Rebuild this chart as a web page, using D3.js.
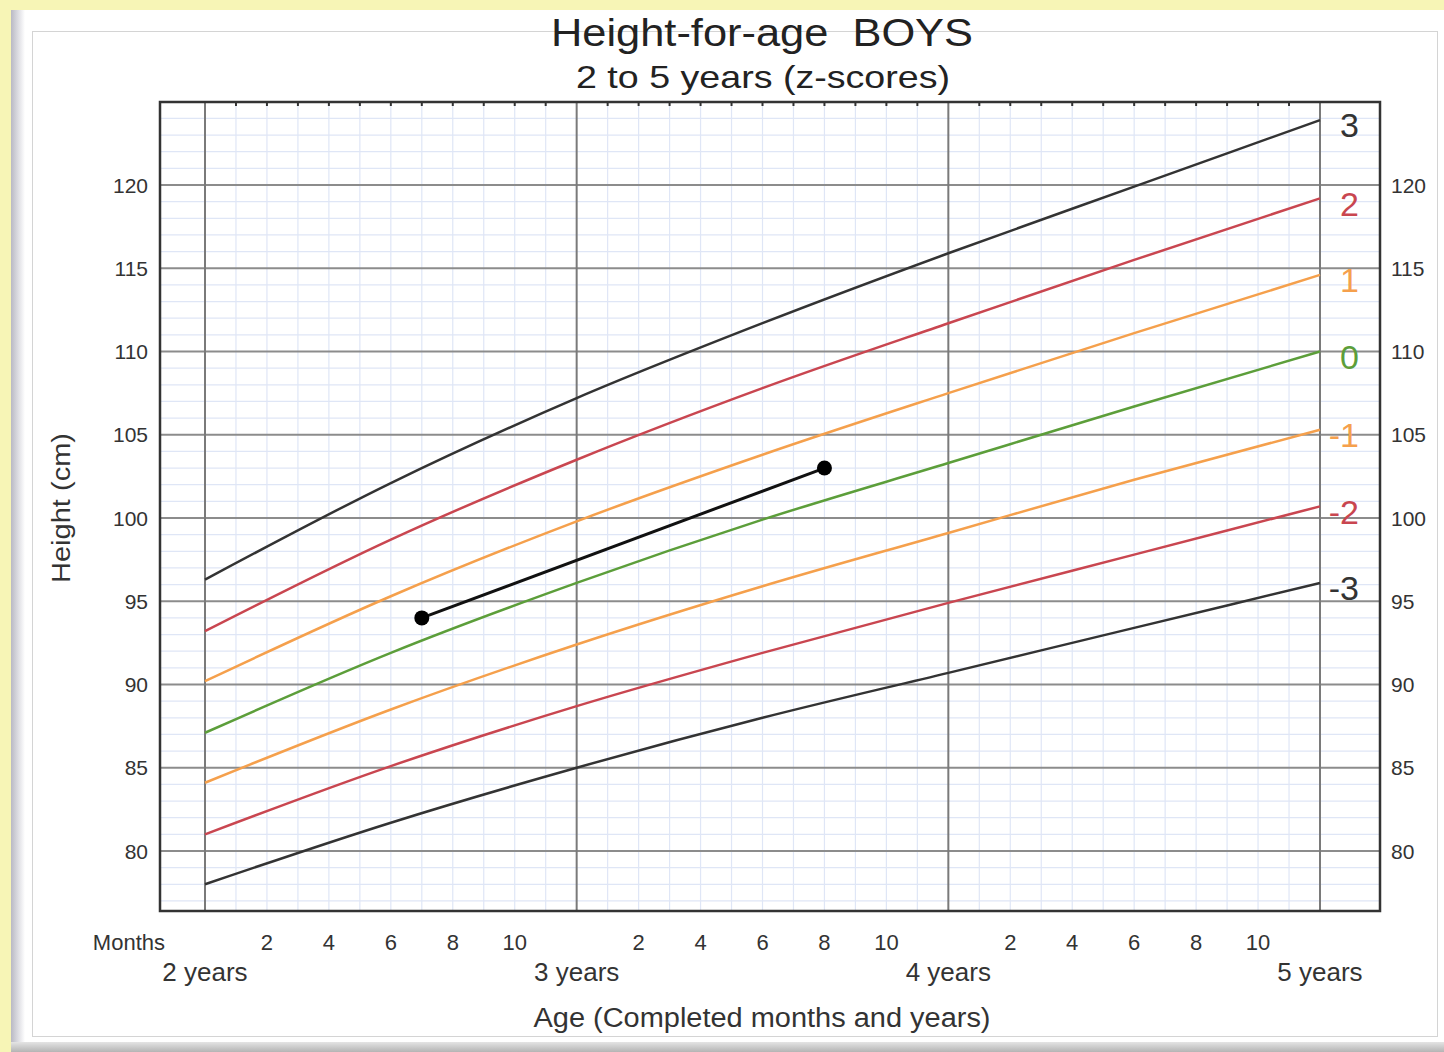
<!DOCTYPE html>
<html>
<head>
<meta charset="utf-8">
<script src="https://cdn.jsdelivr.net/npm/d3@7"></script>
<style>
  body { margin: 0; background: #f7f5b6; }
  svg { display: block; font-family: "Liberation Sans", Arial, sans-serif; }
</style>
</head>
<body>
<div id="chart"></div>
<script>
var svgWidth = 1444;
var svgHeight = 1052;

// age in months, every 6 months from 24 to 60
var ages = [24, 30, 36, 42, 48, 54, 60];
var months = d3.range(24, 61);

// WHO height-for-age boys, z-score curves (cm)
var sdNeg3 = [78.0, 81.7, 85.0, 88.0, 90.7, 93.4, 96.1];
var sdNeg2 = [81.0, 85.1, 88.7, 91.9, 94.9, 97.8, 100.7];
var sdNeg1 = [84.1, 88.5, 92.4, 95.9, 99.1, 102.3, 105.3];
var sd0 = [87.1, 91.9, 96.1, 99.9, 103.3, 106.7, 110.0];
var sd1 = [90.2, 95.3, 99.8, 103.8, 107.5, 111.1, 114.6];
var sd2 = [93.2, 98.7, 103.5, 107.8, 111.7, 115.5, 119.2];
var sd3 = [96.3, 102.1, 107.2, 111.7, 115.9, 119.9, 123.9];

var curveNames = ["-3", "-2", "-1", "0", "1", "2", "3"];
var curveColors = ["#333333", "#c94650", "#f5a04c", "#5c9e3a", "#f5a04c", "#c94650", "#333333"];
var curveValues = [sdNeg3, sdNeg2, sdNeg1, sd0, sd1, sd2, sd3];

// child measurements
var childAge = [31, 44];
var childHeight = [94.0, 103.0];

var yTicks = [80, 85, 90, 95, 100, 105, 110, 115, 120];
var monthTicks = [2, 4, 6, 8, 10];
var yearTicks = [24, 36, 48, 60];

var frame = { left: 160, right: 1380, top: 102, bottom: 911 };

var svg = d3.select("#chart")
  .append("svg")
  .attr("width", svgWidth)
  .attr("height", svgHeight);

// page decoration: yellow border, white sheet with shadow
var defs = svg.append("defs");
var shadowL = defs.append("linearGradient").attr("id", "shadowL");
shadowL.append("stop").attr("offset", "0%").attr("stop-color", "#b9b9c4");
shadowL.append("stop").attr("offset", "100%").attr("stop-color", "#ffffff");
var shadowB = defs.append("linearGradient").attr("id", "shadowB")
  .attr("x1", 0).attr("y1", 0).attr("x2", 0).attr("y2", 1);
shadowB.append("stop").attr("offset", "0%").attr("stop-color", "#e4e4e4");
shadowB.append("stop").attr("offset", "100%").attr("stop-color", "#b4b4b4");

svg.append("rect").attr("width", svgWidth).attr("height", svgHeight).attr("fill", "#f7f5b6");
svg.append("rect").attr("x", 11).attr("y", 10).attr("width", svgWidth - 11).attr("height", 1032)
  .attr("fill", "#ffffff");
svg.append("rect").attr("x", 11).attr("y", 10).attr("width", 14).attr("height", 1032)
  .attr("fill", "url(#shadowL)");
svg.append("rect").attr("x", 11).attr("y", 1042).attr("width", svgWidth - 11).attr("height", 10)
  .attr("fill", "url(#shadowB)");
svg.append("rect").attr("x", 32.5).attr("y", 31.5).attr("width", 1405).attr("height", 1005)
  .attr("fill", "none").attr("stroke", "#d4d4d4").attr("stroke-width", 1);

var x = d3.scaleLinear().domain([24, 60]).range([205, 1320]);
var y = d3.scaleLinear().domain([80, 120]).range([851, 185]);

var plot = svg.append("g");

// minor grid: every cm, every month
plot.selectAll(".minorY")
  .data(d3.range(77, 125).filter(d => d % 5 !== 0))
  .enter().append("line")
  .attr("x1", frame.left).attr("x2", frame.right)
  .attr("y1", d => y(d)).attr("y2", d => y(d))
  .attr("stroke", "#dfe6f6").attr("stroke-width", 1.2);

plot.selectAll(".minorX")
  .data(months.filter(d => d % 12 !== 0))
  .enter().append("line")
  .attr("x1", d => x(d)).attr("x2", d => x(d))
  .attr("y1", frame.top).attr("y2", frame.bottom)
  .attr("stroke", "#dfe6f6").attr("stroke-width", 1.2);

// major grid
plot.selectAll(".majorY")
  .data(yTicks)
  .enter().append("line")
  .attr("x1", frame.left).attr("x2", frame.right)
  .attr("y1", d => y(d)).attr("y2", d => y(d))
  .attr("stroke", "#8c8c8c").attr("stroke-width", 2);

plot.selectAll(".majorX")
  .data(yearTicks)
  .enter().append("line")
  .attr("x1", d => x(d)).attr("x2", d => x(d))
  .attr("y1", frame.top).attr("y2", frame.bottom)
  .attr("stroke", "#7a7a7a").attr("stroke-width", 2);

// small month ticks on top edge
plot.selectAll(".topTick")
  .data(months.filter(d => d % 12 !== 0))
  .enter().append("line")
  .attr("x1", d => x(d)).attr("x2", d => x(d))
  .attr("y1", frame.top).attr("y2", frame.top + 4)
  .attr("stroke", "#333").attr("stroke-width", 2);

// frame
plot.append("rect")
  .attr("x", frame.left).attr("y", frame.top)
  .attr("width", frame.right - frame.left).attr("height", frame.bottom - frame.top)
  .attr("fill", "none").attr("stroke", "#333").attr("stroke-width", 2.5);

// z-score curves
var line = d3.line()
  .x((d, i) => x(ages[i]))
  .y(d => y(d))
  .curve(d3.curveMonotoneX);

plot.selectAll(".zcurve")
  .data(curveValues)
  .enter().append("path")
  .attr("d", d => line(d))
  .attr("fill", "none")
  .attr("stroke", (d, i) => curveColors[i])
  .attr("stroke-width", 2.5);

plot.selectAll(".zlabel")
  .data(curveValues)
  .enter().append("text")
  .attr("x", 1359)
  .attr("y", d => y(d[d.length - 1]) + 5)
  .attr("dy", "0.36em")
  .attr("text-anchor", "end")
  .attr("font-size", 34)
  .attr("fill", (d, i) => curveColors[i])
  .text((d, i) => curveNames[i]);

// child's measurements
var childPts = childAge.map((a, i) => [a, childHeight[i]]);
plot.append("path")
  .attr("d", d3.line().x(d => x(d[0])).y(d => y(d[1]))(childPts))
  .attr("fill", "none").attr("stroke", "#111").attr("stroke-width", 3);
plot.selectAll(".child")
  .data(childPts)
  .enter().append("circle")
  .attr("cx", d => x(d[0])).attr("cy", d => y(d[1]))
  .attr("r", 7.5).attr("fill", "#000");

// y tick labels, both sides
var labels = svg.append("g").attr("fill", "#333").attr("font-size", 21);
labels.selectAll(".yl")
  .data(yTicks)
  .enter().append("text")
  .attr("x", 148).attr("y", d => y(d)).attr("dy", "0.36em")
  .attr("text-anchor", "end").text(d => d);
labels.selectAll(".yr")
  .data(yTicks)
  .enter().append("text")
  .attr("x", 1391).attr("y", d => y(d)).attr("dy", "0.36em")
  .attr("text-anchor", "start").text(d => d);

// month labels
var monthPos = [];
[24, 36, 48].forEach(function(start) {
  monthTicks.forEach(function(m) { monthPos.push([start + m, m]); });
});
labels.selectAll(".ml")
  .data(monthPos)
  .enter().append("text")
  .attr("x", d => x(d[0])).attr("y", 950)
  .attr("text-anchor", "middle").attr("font-size", 22)
  .text(d => d[1]);
labels.append("text")
  .attr("x", 165).attr("y", 950).attr("text-anchor", "end").attr("font-size", 22)
  .text("Months");

labels.selectAll(".yearl")
  .data(yearTicks)
  .enter().append("text")
  .attr("x", d => x(d)).attr("y", 981)
  .attr("text-anchor", "middle").attr("font-size", 26)
  .text(d => (d / 12) + " years");

// titles
svg.append("text")
  .attr("x", 762).attr("y", 46).attr("text-anchor", "middle")
  .attr("font-size", 38).attr("fill", "#222")
  .attr("textLength", 422).attr("lengthAdjust", "spacingAndGlyphs")
  .text("Height-for-age\u00a0\u00a0BOYS");
svg.append("text")
  .attr("x", 763).attr("y", 88).attr("text-anchor", "middle")
  .attr("font-size", 32).attr("fill", "#222")
  .attr("textLength", 374).attr("lengthAdjust", "spacingAndGlyphs")
  .text("2 to 5 years (z-scores)");
svg.append("text")
  .attr("x", 762).attr("y", 1027).attr("text-anchor", "middle")
  .attr("font-size", 27).attr("fill", "#333")
  .attr("textLength", 457).attr("lengthAdjust", "spacingAndGlyphs")
  .text("Age (Completed months and years)");
svg.append("text")
  .attr("transform", "translate(70, 508) rotate(-90)")
  .attr("text-anchor", "middle")
  .attr("font-size", 26).attr("fill", "#333")
  .attr("textLength", 150).attr("lengthAdjust", "spacingAndGlyphs")
  .text("Height (cm)");
</script>
</body>
</html>
